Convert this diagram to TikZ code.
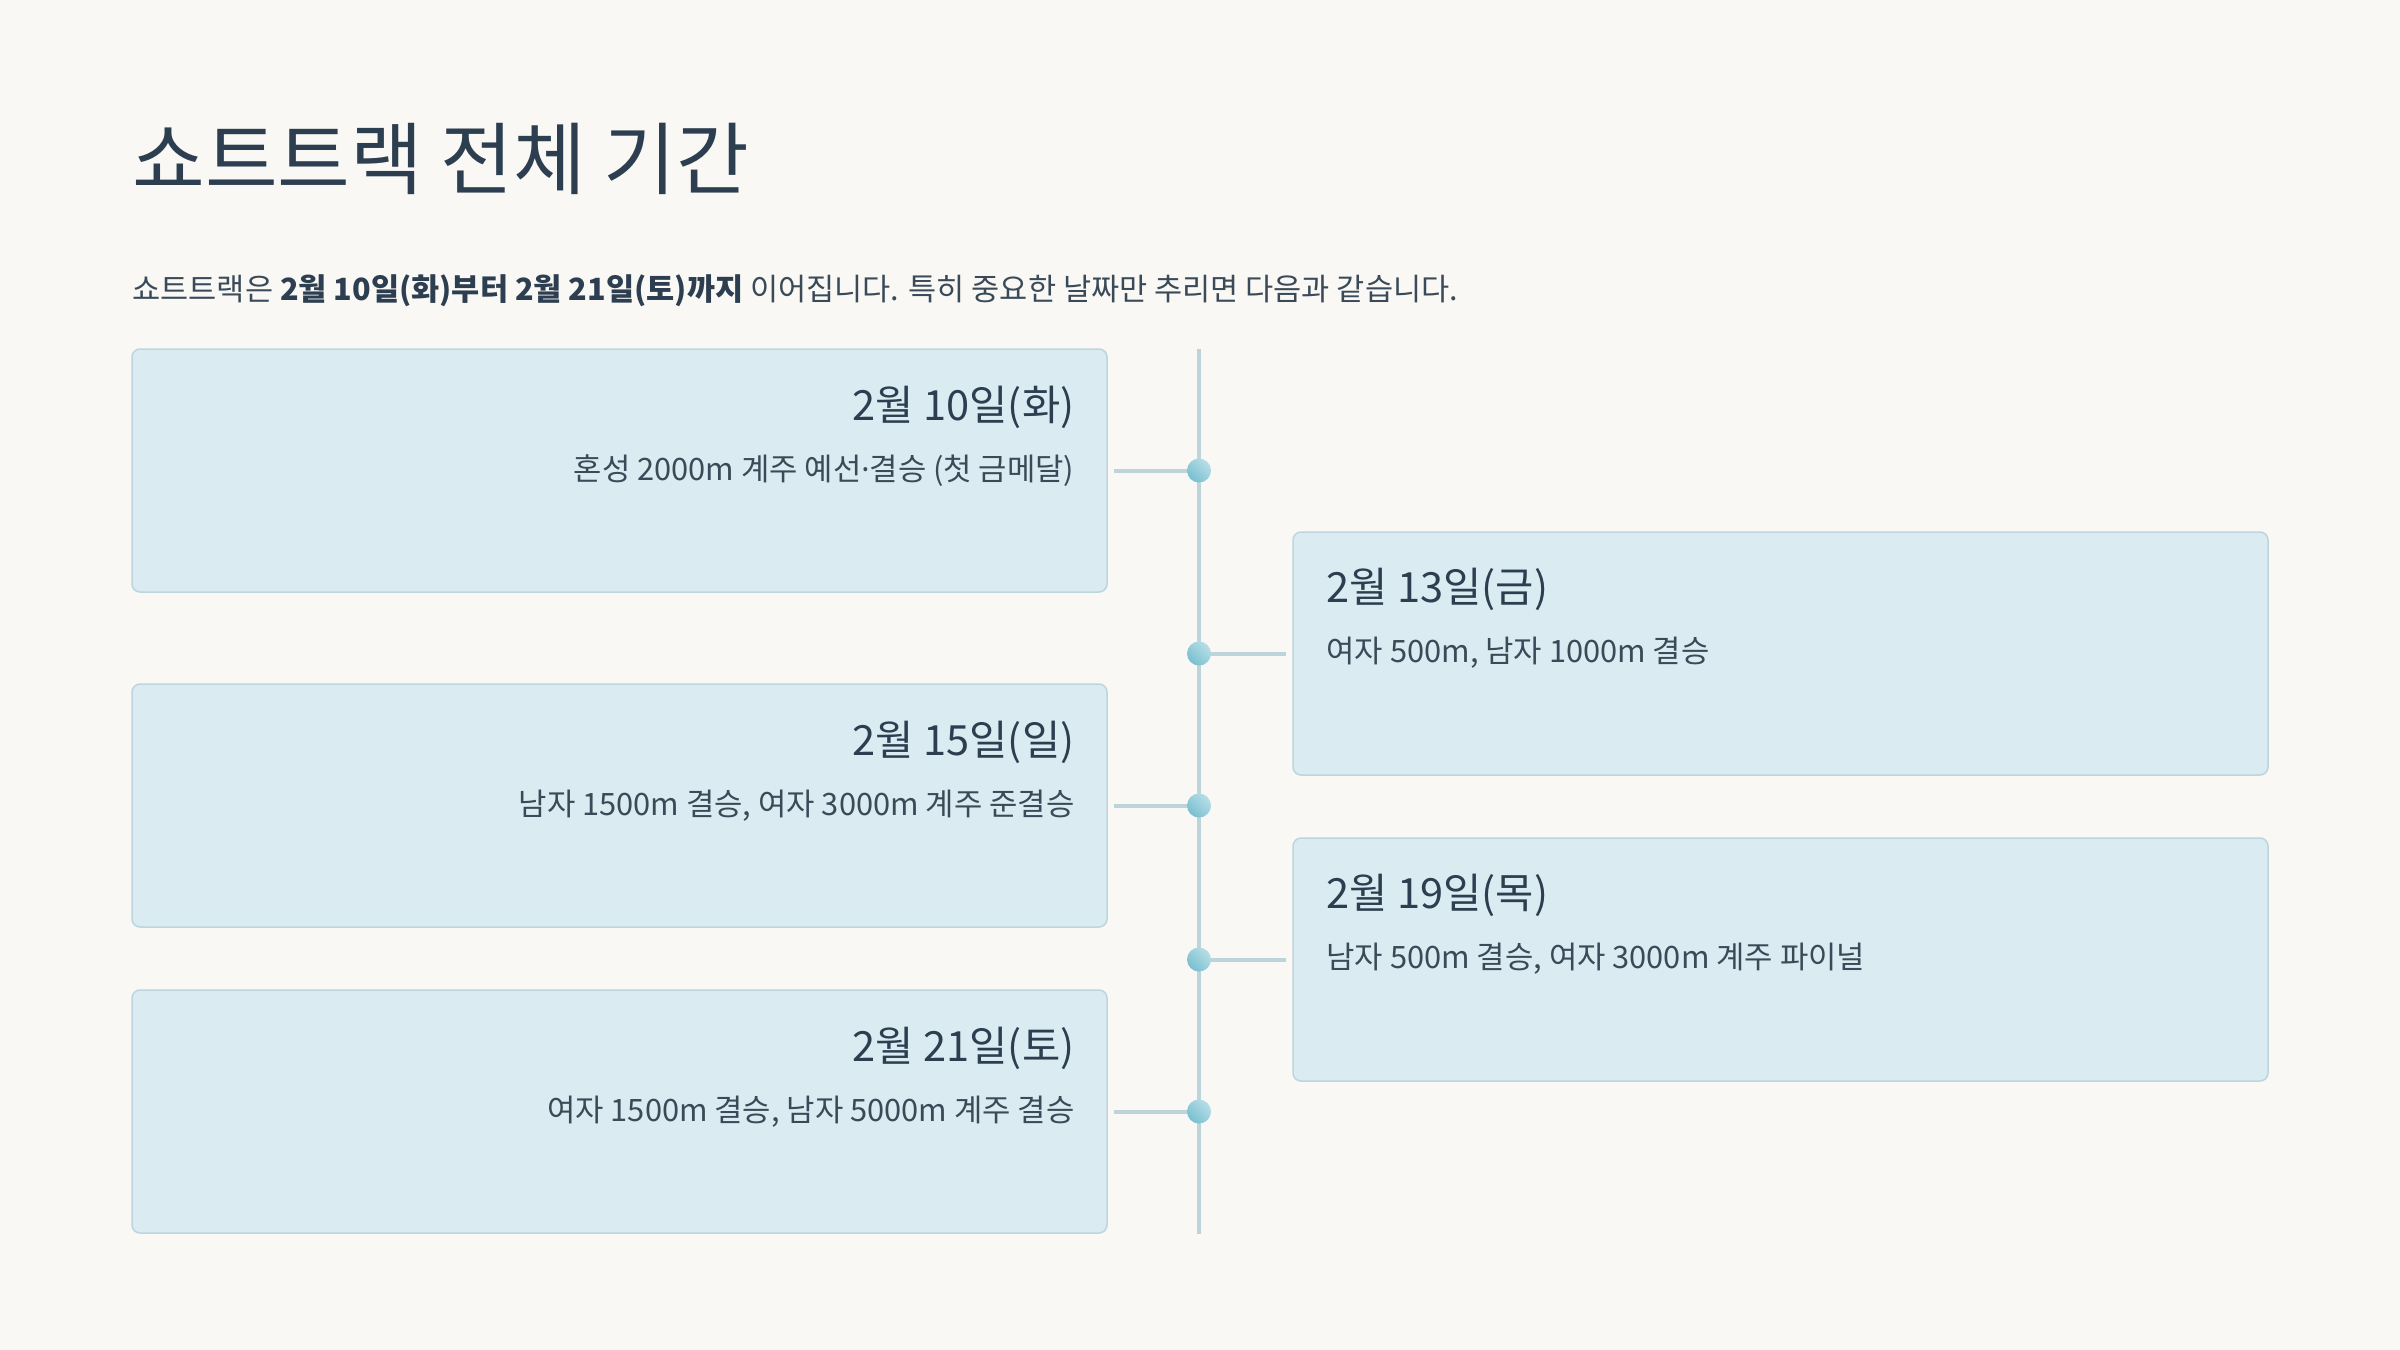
\documentclass[tikz,border=0pt]{standalone}
\usepackage{fontspec}
\setmainfont{Noto Sans CJK KR}
\newfontfamily\latinf{Noto Sans}
\usepackage{xcolor}
\usepackage{tikz}
\usetikzlibrary{calc,positioning}
\definecolor{bgx}{HTML}{F9F8F4}
\definecolor{navy}{HTML}{2C3E50}
\definecolor{inkx}{HTML}{3A4A58}
\definecolor{cardbg}{HTML}{DAEBF1}
\definecolor{cardln}{HTML}{BDD5DC}
\definecolor{railx}{HTML}{BCD4DA}
\definecolor{dotdk}{HTML}{78BFD1}
\definecolor{dotlt}{HTML}{B8DEE7}
\tikzset{
  card/.style={draw=cardln,line width=0.75pt,rounded corners=4pt,fill=cardbg,minimum width=487.5pt,minimum height=121.5pt,inner sep=0pt},
  dot/.style={circle,minimum size=12pt,inner sep=0pt,shading=axis,top color=dotlt,bottom color=dotdk,shading angle=-45},
  rail/.style={railx,line width=2pt},
  cn/.style={railx,line width=2pt},
  hd/.style={text=navy,font=\fontsize{20.8}{25}\selectfont,inner sep=0pt},
  ds/.style={text=inkx,font=\fontsize{15.4}{18}\selectfont,inner sep=0pt}
}
\begin{document}
\begin{tikzpicture}[x=0.5pt,y=-0.5pt]
\fill[bgx] (0,0) rectangle (2400,1350);
\useasboundingbox (0,0) rectangle (2400,1350);
% title and intro line
\node[anchor=west,text=navy,font=\fontsize{39.5}{46}\selectfont,inner sep=0pt] (title) at (132,159) {쇼트트랙 전체 기간};
\node[anchor=west,text=inkx,font=\fontsize{15.3}{18}\selectfont,inner sep=0pt] (intro) at (132,291) {쇼트트랙은 \textbf{\color{navy}2월 10일(화)부터 2월 21일(토)까지} 이어집니다. 특히 중요한 날짜만 추리면 다음과 같습니다.};
% cards
\node[card] (b1) at (619.5,470.5) {};
\node[card] (b2) at (1780.5,653.5) {};
\node[card] (b3) at (619.5,805.5) {};
\node[card] (b4) at (1780.5,959.5) {};
\node[card] (b5) at (619.5,1111.5) {};
\node[hd,anchor=east] (h1) at ($(b1.north east)+(-33,59)$) {2월 10일(화)};
\node[ds,anchor=east] (t1) at ($(b1.north east)+(-33,122)$) {혼성 2000m 계주 예선{\latinf·}결승 (첫 금메달)};
\node[hd,anchor=west] (h2) at ($(b2.north west)+(34,58)$) {2월 13일(금)};
\node[ds,anchor=west] (t2) at ($(b2.north west)+(34,121)$) {여자 500m, 남자 1000m 결승};
\node[hd,anchor=east] (h3) at ($(b3.north east)+(-33,59)$) {2월 15일(일)};
\node[ds,anchor=east] (t3) at ($(b3.north east)+(-33,122)$) {남자 1500m 결승, 여자 3000m 계주 준결승};
\node[hd,anchor=west] (h4) at ($(b4.north west)+(34,58)$) {2월 19일(목)};
\node[ds,anchor=west] (t4) at ($(b4.north west)+(34,121)$) {남자 500m 결승, 여자 3000m 계주 파이널};
\node[hd,anchor=east] (h5) at ($(b5.north east)+(-33,59)$) {2월 21일(토)};
\node[ds,anchor=east] (t5) at ($(b5.north east)+(-33,122)$) {여자 1500m 결승, 남자 5000m 계주 결승};
% timeline
\coordinate (top) at (1199,349);
\coordinate (bot) at (1199,1234);
\draw[rail] (top) -- (bot);
\draw[cn,shorten <=3pt] (b1.east) -- (top |- b1);
\draw[cn,shorten >=3pt] (top |- b2) -- (b2.west);
\draw[cn,shorten <=3pt] (b3.east) -- (top |- b3);
\draw[cn,shorten >=3pt] (top |- b4) -- (b4.west);
\draw[cn,shorten <=3pt] (b5.east) -- (top |- b5);
\foreach \i in {1,...,5}{\node[dot] (d\i) at (top |- b\i) {};}
\end{tikzpicture}
\end{document}
